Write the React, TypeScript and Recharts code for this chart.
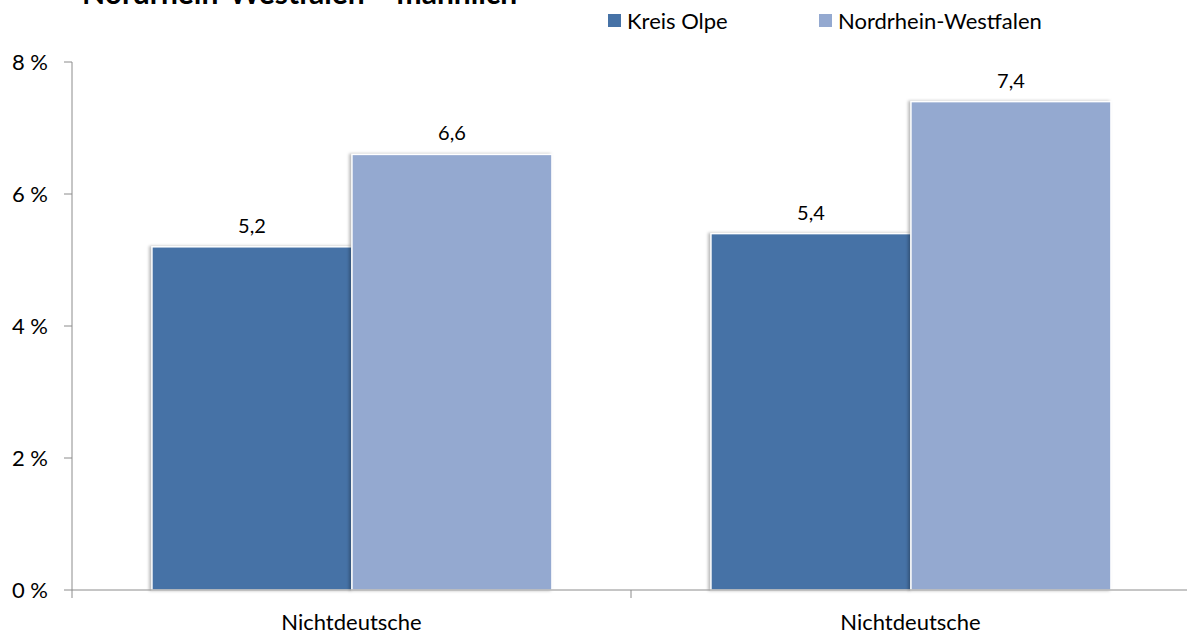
import { BarChart, Bar, XAxis, YAxis, LabelList } from 'recharts';

const categories = ['Nichtdeutsche', 'Nichtdeutsche'];
const kreisOlpe = [5.2, 5.4];
const nordrheinWestfalen = [6.6, 7.4];
const yTicks = [0, 2, 4, 6, 8];

const seriesNames = ['Kreis Olpe', 'Nordrhein-Westfalen'];
const colors = ['#4672A6', '#94A9D0'];

const data = categories.map((name, i) => ({
    name,
    olpe: kreisOlpe[i],
    nrw: nordrheinWestfalen[i],
}));

const font = 'Lato, "Open Sans", sans-serif';
const axisColor = '#8c8c8c';
const catMargin = 10;

const fmt = (v: any) => Number(v).toFixed(1).replace('.', ',');

const BarShape = (props: any) => {
    const { x, y, width, height, fill } = props;
    return (
        <rect
            x={x}
            y={y}
            width={width}
            height={height}
            fill={fill}
            stroke="#fff"
            strokeWidth={1.5}
            style={{ filter: 'drop-shadow(-2px 0px 1.5px rgba(0,0,0,0.28))' }}
        />
    );
};

// category label plus the tick marks on the category boundaries
const CategoryTick = (props: any) => {
    const { x, y, payload, index, visibleTicksCount } = props;
    const axisY = y - catMargin;
    const half = payload.offset || 0;
    return (
        <g>
            {index === 0 && <line x1={x - half} x2={x - half} y1={axisY} y2={axisY + 8} stroke={axisColor} />}
            {index < visibleTicksCount - 1 && (
                <line x1={x + half} x2={x + half} y1={axisY} y2={axisY + 8} stroke={axisColor} />
            )}
            <text x={x} y={axisY + 40} textAnchor="middle" fill="#000" fontSize={22} fontFamily={font}>
                {payload.value}
            </text>
        </g>
    );
};

export default function App() {
    return (
        <div style={{ position: 'absolute', left: 0, top: 0, width: 1187, height: 633, overflow: 'hidden', background: '#fff' }}>
            <div
                style={{
                    position: 'absolute',
                    left: 82,
                    top: -24,
                    fontFamily: font,
                    fontWeight: 'bold',
                    fontSize: 30,
                    lineHeight: '32px',
                    whiteSpace: 'nowrap',
                    color: '#000',
                }}
            >
                Nordrhein-Westfalen – männlich
            </div>
            <div style={{ position: 'absolute', top: 7, left: 608, display: 'flex', fontFamily: font, fontSize: 22, color: '#000' }}>
                {seriesNames.map((n, i) => (
                    <div key={n} style={{ display: 'flex', alignItems: 'center', width: i === 0 ? 211 : 'auto' }}>
                        <span style={{ display: 'inline-block', width: 13, height: 13, background: colors[i], marginRight: 6 }} />
                        <span>{n}</span>
                    </div>
                ))}
            </div>
            <BarChart
                width={1190}
                height={633}
                data={data}
                margin={{ top: 62, right: 0, bottom: 0, left: 0 }}
                barCategoryGap="14.3%"
                barGap={0}
            >
                <XAxis
                    dataKey="name"
                    height={43}
                    stroke={axisColor}
                    tickLine={false}
                    tickSize={0}
                    tickMargin={catMargin}
                    tick={<CategoryTick />}
                />
                <YAxis
                    domain={[0, 8]}
                    ticks={yTicks}
                    width={72}
                    stroke={axisColor}
                    tickSize={8}
                    tickMargin={16}
                    tickFormatter={(v) => `${v} %`}
                    tick={{ fill: '#000', fontSize: 22, fontFamily: font }}
                />
                <Bar dataKey="olpe" name={seriesNames[0]} fill={colors[0]} shape={<BarShape />} isAnimationActive={false}>
                    <LabelList dataKey="olpe" position="top" offset={14} formatter={fmt} style={{ fill: '#000', fontSize: 20, fontFamily: font }} />
                </Bar>
                <Bar dataKey="nrw" name={seriesNames[1]} fill={colors[1]} shape={<BarShape />} isAnimationActive={false}>
                    <LabelList dataKey="nrw" position="top" offset={14} formatter={fmt} style={{ fill: '#000', fontSize: 20, fontFamily: font }} />
                </Bar>
            </BarChart>
        </div>
    );
}
